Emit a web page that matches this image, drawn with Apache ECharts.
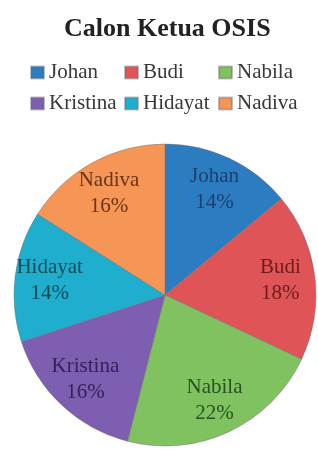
<!DOCTYPE html>
<html>
<head>
<meta charset="utf-8">
<script src="https://cdn.jsdelivr.net/npm/echarts@6/dist/echarts.min.js"></script>
<style>
  html, body { margin: 0; padding: 0; background: #fff; }
  #chart { width: 318px; height: 450px; }
</style>
</head>
<body>
<div id="chart"></div>
<script>
// Data
const names = ["Johan", "Budi", "Nabila", "Kristina", "Hidayat", "Nadiva"];
const shares = [14, 18, 22, 16, 14, 16];
const colors = ["#2b7cc0", "#df5457", "#7fc25f", "#7e5eb0", "#20aece", "#f59657"];
const labelColors = ["#1d3f6e", "#6e1a1e", "#285220", "#36205c", "#0f4a58", "#6b3416"];

const chart = echarts.init(document.getElementById("chart"));

const center = [165, 295];
const radius = 151;

const slices = names.map((n, i) => ({
  name: n,
  value: shares[i],
  itemStyle: { color: colors[i] },
}));

// overlay ring only used to put the labels at ~3/4 of the radius
const labelSlices = names.map((n, i) => ({
  name: n,
  value: shares[i],
  label: { color: labelColors[i] },
}));

chart.setOption({
  animation: false,
  title: {
    text: "Calon Ketua OSIS",
    left: 59,
    top: 11,
    textStyle: {
      fontFamily: "Liberation Serif",
      fontSize: 26,
      fontWeight: "bold",
      color: "#222",
    },
  },
  legend: {
    data: names,
    left: 30,
    top: 57,
    width: 290,
    padding: 0,
    itemGap: 0,
    itemWidth: 13,
    itemHeight: 12,
    icon: "rect",
    textStyle: {
      fontFamily: "Liberation Serif",
      fontSize: 21,
      color: "#383838",
      width: 75,
      lineHeight: 31,
    },
  },
  series: [
    {
      type: "pie",
      center,
      radius,
      startAngle: 90,
      clockwise: true,
      silent: true,
      label: { show: false },
      labelLine: { show: false },
      itemStyle: { borderColor: "rgba(110,110,110,0.45)", borderWidth: 1 },
      data: slices,
    },
    {
      type: "pie",
      center,
      radius: [radius * 0.5, radius],
      startAngle: 90,
      clockwise: true,
      silent: true,
      legendHoverLink: false,
      itemStyle: { color: "transparent" },
      label: {
        show: true,
        position: "inside",
        formatter: (p) => p.name + "\n" + p.value + "%",
        fontFamily: "Liberation Serif",
        fontSize: 21,
        lineHeight: 26,
        align: "center",
      },
      labelLine: { show: false },
      data: labelSlices,
    },
  ],
});
</script>
</body>
</html>
